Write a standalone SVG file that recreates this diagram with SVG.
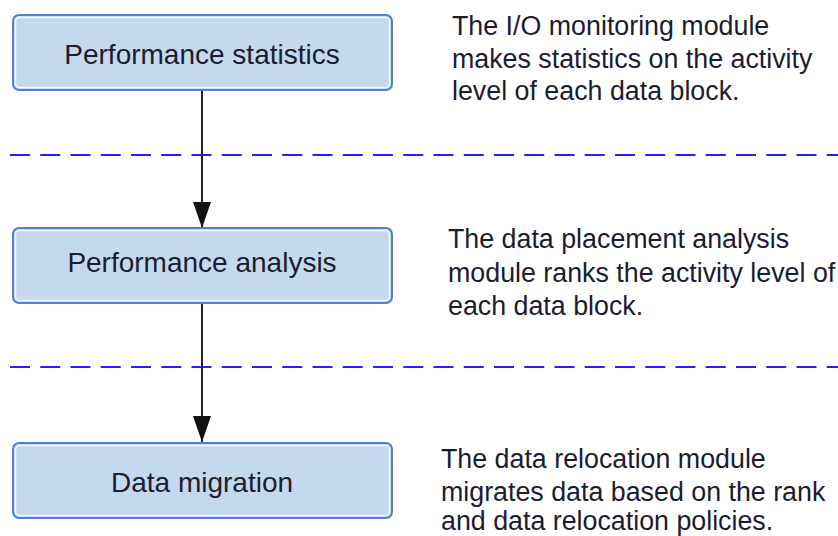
<svg xmlns="http://www.w3.org/2000/svg" width="838" height="536" viewBox="0 0 838 536">
<style>
.box{fill:#c5d9ee;stroke:#4f7fd9;stroke-width:2}
.inner{fill:none;stroke:#ffffff;stroke-width:1.5;opacity:0.8}
.lbl{font-family:"Liberation Sans",Arial,sans-serif;font-size:28px;fill:#1c1c30;text-anchor:middle}
.note{font-family:"Liberation Sans",Arial,sans-serif;font-size:26.8px;fill:#1c1c30}
.dash{stroke:#2222ff;stroke-width:2;stroke-dasharray:20 10.25;fill:none}
.conn{stroke:#222;stroke-width:2;fill:none}
</style>
<defs>
<marker id="arr" markerUnits="userSpaceOnUse" markerWidth="26" markerHeight="18" refX="26" refY="9" orient="auto" viewBox="0 0 26 18">
<path d="M0,0 L26,9 L0,18 Z" fill="#111"/>
</marker>
</defs>
<rect width="838" height="536" fill="#fff"/>
<g id="separators">
<line class="dash" x1="10" y1="155" x2="838" y2="155"/>
<line class="dash" x1="10" y1="367" x2="838" y2="367"/>
</g>
<g id="connectors">
<path class="conn" d="M202,90 L202,228" marker-end="url(#arr)"/>
<path class="conn" d="M202,303 L202,442" marker-end="url(#arr)"/>
</g>
<g id="node-stats">
<rect class="box" x="13" y="15" width="379" height="75" rx="6"/>
<rect class="inner" x="15.5" y="17.5" width="374" height="70" rx="4"/>
<text class="lbl" x="202" y="64">Performance statistics</text>
</g>
<g id="node-analysis">
<rect class="box" x="13" y="228" width="379" height="75" rx="6"/>
<rect class="inner" x="15.5" y="230.5" width="374" height="70" rx="4"/>
<text class="lbl" x="202" y="272">Performance analysis</text>
</g>
<g id="node-migration">
<rect class="box" x="13" y="443" width="379" height="75" rx="6"/>
<rect class="inner" x="15.5" y="445.5" width="374" height="70" rx="4"/>
<text class="lbl" x="202" y="492">Data migration</text>
</g>
<g id="note-stats">
<text class="note" x="452" y="35">The I/O monitoring module</text>
<text class="note" x="452" y="68">makes statistics on the activity</text>
<text class="note" x="452" y="100">level of each data block.</text>
</g>
<g id="note-analysis">
<text class="note" x="448" y="248">The data placement analysis</text>
<text class="note" x="448" y="282">module ranks the activity level of</text>
<text class="note" x="448" y="315">each data block.</text>
</g>
<g id="note-migration">
<text class="note" x="441" y="468">The data relocation module</text>
<text class="note" x="441" y="501">migrates data based on the rank</text>
<text class="note" x="441" y="530">and data relocation policies.</text>
</g>
</svg>
